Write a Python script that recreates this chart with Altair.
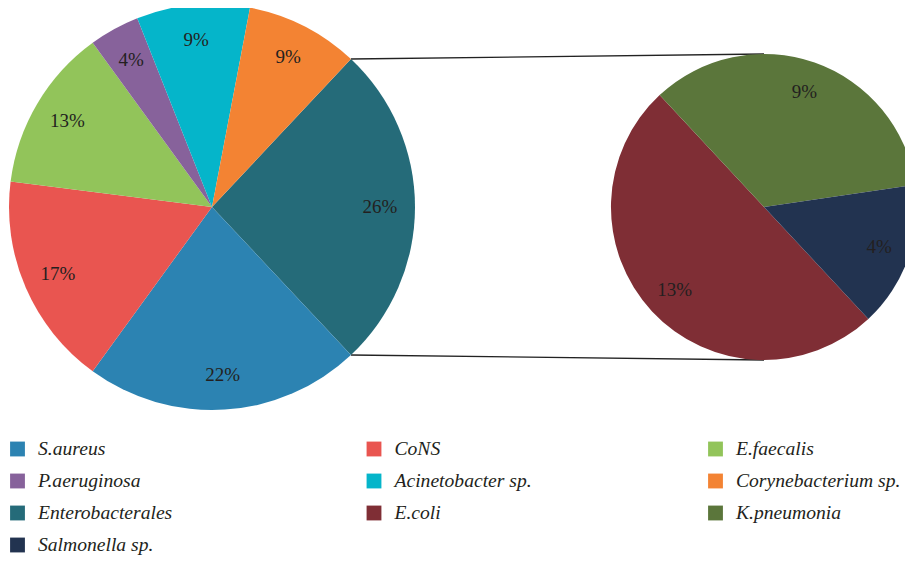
import math
import altair as alt
import pandas as pd

# ---- data ----
main_names = ["Enterobacterales", "S.aureus", "CoNS", "E.faecalis",
              "P.aeruginosa", "Acinetobacter sp.", "Corynebacterium sp."]
main_values = [26, 22, 17, 13, 4, 9, 9]

sub_names = ["E.coli", "K.pneumonia", "Salmonella sp."]
sub_values = [13, 9, 4]

legend_names = ["S.aureus", "CoNS", "E.faecalis",
                "P.aeruginosa", "Acinetobacter sp.", "Corynebacterium sp.",
                "Enterobacterales", "E.coli", "K.pneumonia",
                "Salmonella sp."]
legend_colors = ["#2C83B2", "#E95550", "#92C45A",
                 "#87629B", "#05B5CA", "#F38333",
                 "#256B79", "#7F2E35", "#5B763B",
                 "#223350"]

# ---- layout (view coordinates) ----
W, H = 897, 547
C1X, C1Y, R1 = 204, 199, 203
C2X, C2Y, R2 = 756, 199, 153
FONT = "Liberation Serif"
TXT = "#231F20"

main_df = pd.DataFrame({
    "name": main_names,
    "value": main_values,
    "idx": list(range(len(main_names))),
    "label": [f"{v}%" for v in main_values],
})
sub_df = pd.DataFrame({
    "name": sub_names,
    "value": sub_values,
    "idx": list(range(len(sub_names))),
    "label": [f"{v}%" for v in sub_values],
})
legend_df = pd.DataFrame({
    "name": legend_names,
    "col": [i % 3 for i in range(len(legend_names))],
    "row": [i // 3 for i in range(len(legend_names))],
})

color_scale = alt.Scale(domain=legend_names, range=legend_colors)

# main pie: aggregated slice centred at 3 o'clock
tot = sum(main_values)
s1 = math.pi / 2 - math.pi * main_values[0] / tot
main_theta = alt.Theta("value:Q", stack=True,
                       scale=alt.Scale(range=[s1, s1 + 2 * math.pi]))
# second pie
s2 = math.radians(137)
sub_theta = alt.Theta("value:Q", stack=True,
                      scale=alt.Scale(range=[s2, s2 + 2 * math.pi]))

main_arc = alt.Chart(main_df).mark_arc(radius=R1).encode(
    theta=main_theta,
    color=alt.Color("name:N", scale=color_scale, legend=None),
    order=alt.Order("idx:Q"),
    x=alt.value(C1X), y=alt.value(C1Y),
)
main_lbl = alt.Chart(main_df).mark_text(
    radius=168, font=FONT, fontSize=19, color=TXT
).encode(
    theta=main_theta, text="label:N", order=alt.Order("idx:Q"),
    x=alt.value(C1X), y=alt.value(C1Y),
)

sub_arc = alt.Chart(sub_df).mark_arc(radius=R2).encode(
    theta=sub_theta,
    color=alt.Color("name:N", scale=color_scale, legend=None),
    order=alt.Order("idx:Q"),
    x=alt.value(C2X), y=alt.value(C2Y),
)
sub_lbl = alt.Chart(sub_df).mark_text(
    radius=122, font=FONT, fontSize=19, color=TXT
).encode(
    theta=sub_theta, text="label:N", order=alt.Order("idx:Q"),
    x=alt.value(C2X), y=alt.value(C2Y),
)

# connector lines: edge of aggregated slice -> top / bottom of second pie
ex = C1X + R1 * math.sin(s1)
ey_top = C1Y - R1 * math.cos(s1)
ey_bot = C1Y + R1 * math.cos(s1)
line_top = alt.Chart(main_df.head(1)).mark_rule(color="#222222", strokeWidth=1.3).encode(
    x=alt.value(ex), y=alt.value(ey_top), x2=alt.value(C2X), y2=alt.value(C2Y - R2))
line_bot = alt.Chart(main_df.head(1)).mark_rule(color="#222222", strokeWidth=1.3).encode(
    x=alt.value(ex), y=alt.value(ey_bot), x2=alt.value(C2X), y2=alt.value(C2Y + R2))

# legend
lx = alt.X("col:Q", scale=alt.Scale(domain=[0, 1, 2], range=[9.5, 366, 707.5]), axis=None)
ly = alt.Y("row:Q", scale=alt.Scale(domain=[0, 3], range=[441, 537]), axis=None)
leg_sq = alt.Chart(legend_df).mark_square(size=220, opacity=1).encode(
    x=lx, y=ly, color=alt.Color("name:N", scale=color_scale, legend=None))
leg_tx = alt.Chart(legend_df).mark_text(
    align="left", baseline="middle", dx=20.5, dy=0,
    font=FONT, fontStyle="italic", fontSize=19.6, color=TXT
).encode(x=lx, y=ly, text="name:N")

chart = alt.layer(
    line_top, line_bot, main_arc, main_lbl, sub_arc, sub_lbl, leg_sq, leg_tx
).resolve_scale(theta="independent").properties(
    width=W, height=H, padding=0,
    autosize=alt.AutoSizeParams(type="none"),
).configure_view(stroke=None)

chart.save("out.html", embed_options={"renderer": "svg", "actions": False})
